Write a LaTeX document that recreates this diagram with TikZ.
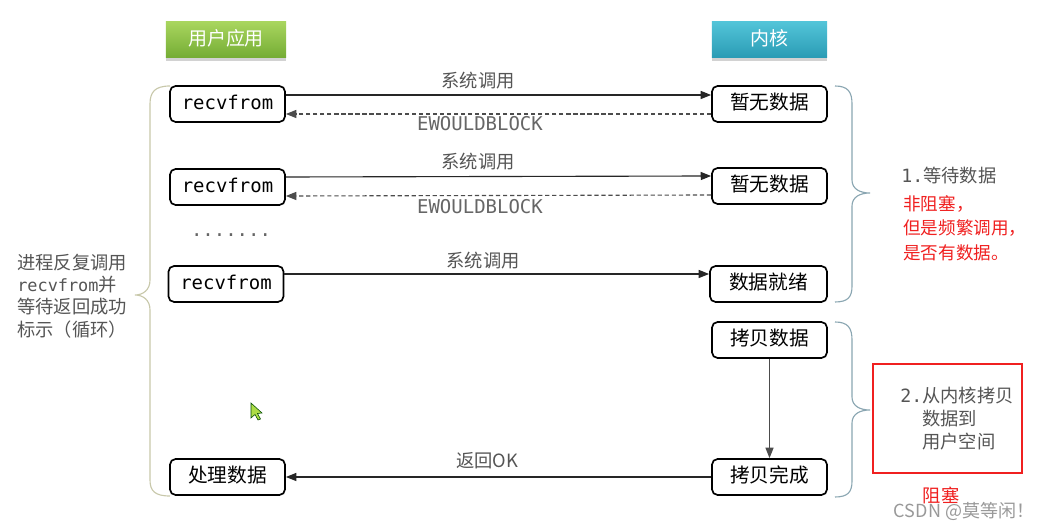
\documentclass[tikz,border=0pt]{standalone}
\usepackage{fontspec}
\setmainfont{Noto Sans CJK SC}
\setmonofont{DejaVu Sans Mono}
\usetikzlibrary{arrows.meta,shadows}
\definecolor{txtgray}{HTML}{555555}
\definecolor{redtxt}{HTML}{F02020}
\definecolor{lbrace}{HTML}{C8C8AA}
\definecolor{rbrace}{HTML}{8AA6B2}
\definecolor{gtop}{HTML}{A8D55E}
\definecolor{gbot}{HTML}{74AC34}
\definecolor{ctop}{HTML}{52C4D8}
\definecolor{cbot}{HTML}{2A9BB4}
\begin{document}
\begin{tikzpicture}[x=0.025cm,y=-0.025cm,
  cjk/.style={text height=0.88em,text depth=0.12em},
  box/.style={draw=black,line width=1.2pt,rounded corners=4pt,fill=white,
    minimum width=2.875cm,minimum height=0.9cm,inner sep=0pt,cjk,
    font=\fontsize{14}{16}\selectfont},
  header/.style={minimum width=2.95cm,minimum height=0.9cm,inner sep=0pt,cjk,
    text=white,font=\fontsize{13.5}{15}\selectfont,
    drop shadow={opacity=0.35,shadow xshift=0pt,shadow yshift=-2pt}},
  lbl/.style={text=txtgray,font=\fontsize{13}{15}\selectfont,cjk,inner sep=0pt},
  mlbl/.style={text=black!60,font=\ttfamily\fontsize{13.5}{15}\selectfont,inner sep=0pt},
  call/.style={-{Triangle[length=0.26cm,width=0.2cm]},line width=0.8pt,draw=black!85},
  ret/.style={-{Triangle[length=0.26cm,width=0.2cm]},line width=0.8pt,draw=black!70,dashed,dash pattern=on 3pt off 2pt},
  lbr/.style={draw=lbrace,line width=0.8pt},
  rbr/.style={draw=rbrace,line width=0.8pt},
  redtext/.style={text=redtxt,font=\fontsize{12.5}{17.5}\selectfont,align=left,inner sep=0pt}
]
\useasboundingbox (0,0) rectangle (1040,530);
\fill[white] (0,0) rectangle (1040,530);

% headers
\node[header,top color=gtop,bottom color=gbot,minimum width=3cm] (hu) at (226,40) {用户应用};
\node[header,top color=ctop,bottom color=cbot,minimum width=2.875cm] (hk) at (769.5,40) {内核};

% left column
\node[box] (r1) at (227.5,104) {\ttfamily\fontsize{13.5}{16}\selectfont recvfrom};
\node[box] (r2) at (227.5,187) {\ttfamily\fontsize{13.5}{16}\selectfont recvfrom};
\node[box] (r3) at (226,284) {\ttfamily\fontsize{13.5}{16}\selectfont recvfrom};
\node[box] (p) at (227.5,477) {处理数据};

% right column
\node[box] (k1) at (769.5,104) {暂无数据};
\node[box] (k2) at (769.5,186) {暂无数据};
\node[box,minimum width=2.925cm] (k3) at (768.5,284) {数据就绪};
\node[box] (k4) at (769.5,340) {拷贝数据};
\node[box] (k5) at (769.5,477) {拷贝完成};

% arrows row 1
\draw[call] ([yshift=0.225cm]r1.east) -- ([yshift=0.225cm]k1.west);
\draw[ret] ([yshift=-0.25cm]k1.west) -- ([yshift=-0.25cm]r1.east);
\node[lbl] (l1) at (478,82) {系统调用};
\node[mlbl] (e1) at (480,124) {EWOULDBLOCK};

% arrows row 2
\draw[call] ([yshift=0.25cm]r2.east) -- ([yshift=0.25cm]k2.west);
\draw[ret] ([yshift=-0.225cm]k2.west) -- ([yshift=-0.225cm]r2.east);
\node[lbl] (l2) at (478,163) {系统调用};
\node[mlbl] (e2) at (480,207) {EWOULDBLOCK};

\node[mlbl,anchor=base] (dots) at (231,237) {.......};

% row 3
\draw[call] ([yshift=0.25cm]r3.east) -- ([yshift=0.25cm]k3.west);
\node[lbl] (l3) at (483,262) {系统调用};

% copy
\draw[call,draw=black!70] (k4.south) -- (k5.north);
\draw[call] (k5.west) -- (p.east);
\node[lbl] (l4) at (487,462) {返回OK};

% left brace
\draw[lbr] (170,86) .. controls (155,86) and (150,92) .. (150,104)
  -- (150,280) .. controls (150,290) and (143,295) .. (135,295)
  .. controls (143,295) and (150,300) .. (150,310)
  -- (150,480) .. controls (150,491) and (155,496) .. (170,496);

% right brace 1
\draw[rbr] (835,86) .. controls (848,86) and (852,92) .. (852,104)
  -- (852,180) .. controls (852,189) and (860,193) .. (870,193)
  .. controls (860,193) and (852,197) .. (852,206)
  -- (852,286) .. controls (852,297) and (848,302) .. (835,302);

% right brace 2
\draw[rbr] (835,322) .. controls (848,322) and (852,328) .. (852,340)
  -- (852,397) .. controls (852,406) and (860,410) .. (870,410)
  .. controls (860,410) and (852,414) .. (852,423)
  -- (852,481) .. controls (852,492) and (848,497) .. (835,497);

% left text
\node[anchor=west,text=txtgray,font=\fontsize{13}{15.9}\selectfont,align=left,inner sep=0pt] (lt) at (17,296)
  {进程反复调用\\{\ttfamily\fontsize{12}{15.9}\selectfont recvfrom}并\\等待返回成功\\标示（循环）};

% right texts
\node[lbl,anchor=west] (t1) at (901,177) {{\ttfamily 1.}等待数据};
\node[redtext,anchor=north west] (t1r) at (903,195) {非阻塞，\\但是频繁调用，\\是否有数据。};

\node[draw=redtxt,line width=1.3pt,minimum width=3.725cm,minimum height=2.725cm,inner sep=0pt] (rb) at (947.5,418.5) {};
\node[lbl,anchor=west] (t2a) at (900,397) {{\ttfamily 2.}从内核拷贝};
\node[lbl,anchor=west] (t2b) at (922,420) {数据到};
\node[lbl,anchor=west] (t2c) at (922,443) {用户空间};
\node[cjk,text=redtxt,font=\fontsize{13}{15}\selectfont,inner sep=0pt] (blk) at (941,497) {阻塞};

\node[cjk,text=black!40,font=\fontsize{12.8}{14}\selectfont,inner sep=0pt] (wm) at (964,512) {CSDN @莫等闲！};

% mouse cursor
\filldraw[fill=yellow!60!green!80!white,draw=black!70!green,line width=0.4pt]
  (251,403) -- (251,418) -- (255,414.5) -- (258,420) -- (260.5,419) -- (257.5,413.5) -- (262,413) -- cycle;
\end{tikzpicture}
\end{document}
